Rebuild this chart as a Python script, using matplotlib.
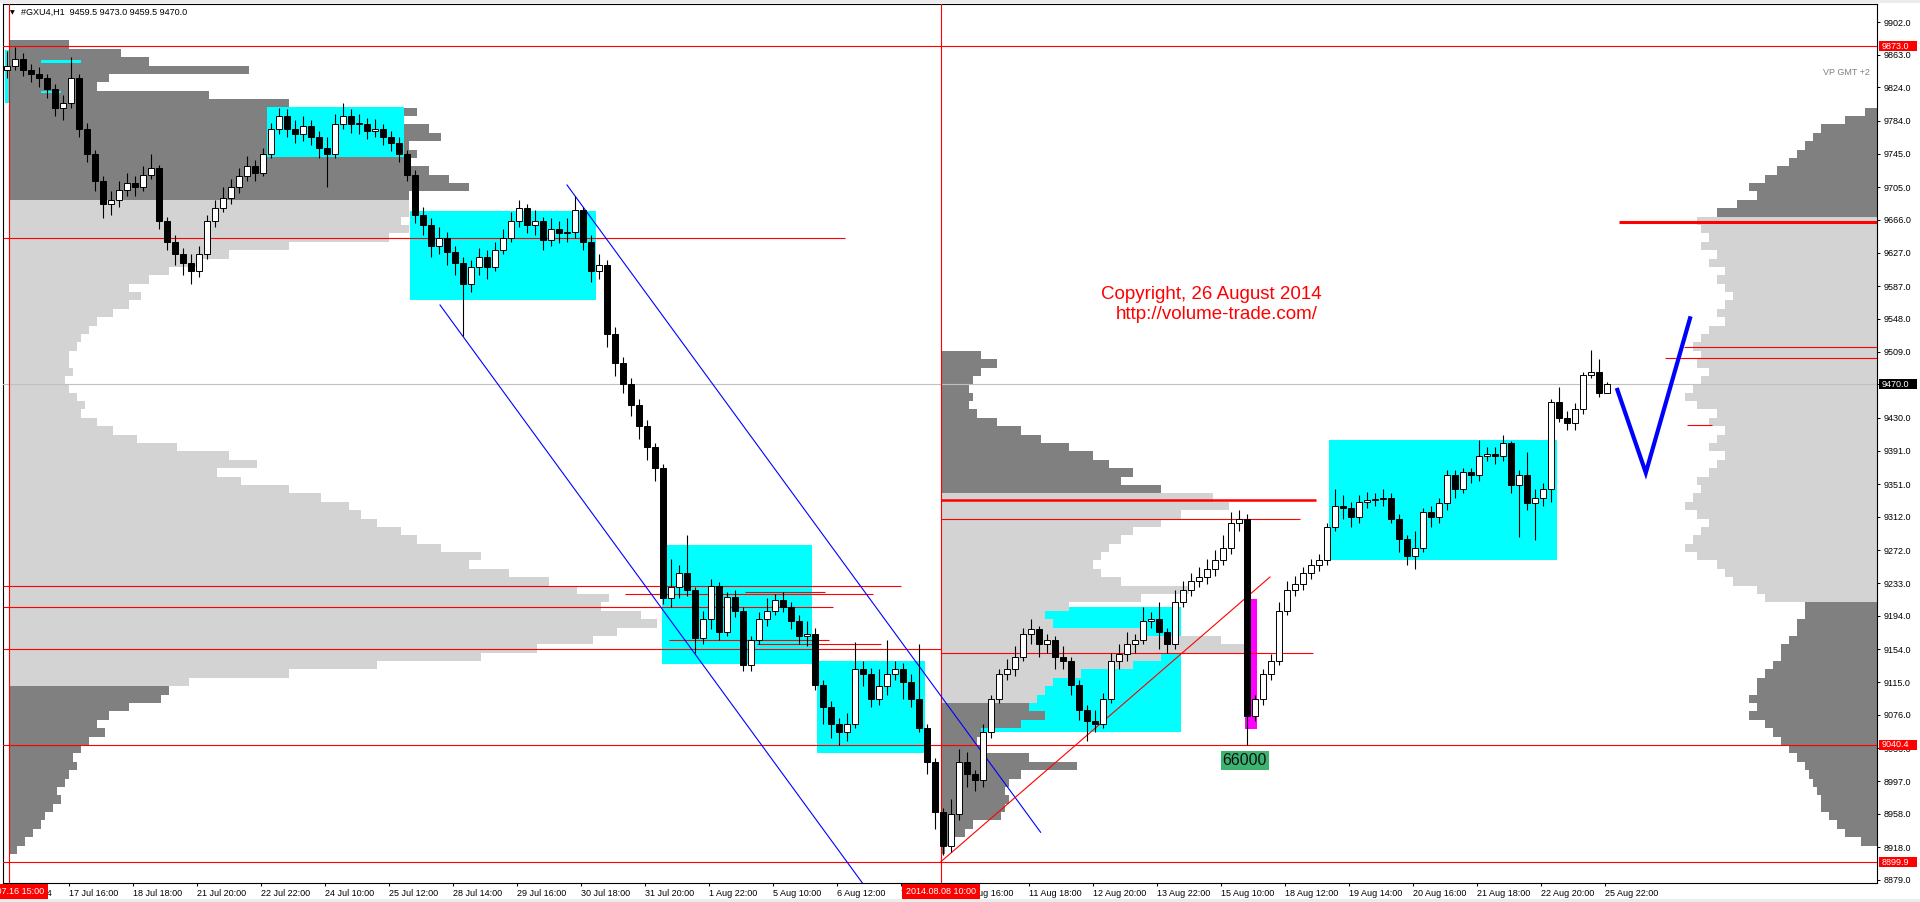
import matplotlib
matplotlib.use("Agg")
import matplotlib.pyplot as plt
import matplotlib.transforms as mtransforms
from matplotlib.patches import Rectangle
import numpy as np

plt.rcParams["font.family"] = ["Liberation Sans", "DejaVu Sans"]

W, H = 1920, 902

# #GXU4 H1, drawn as 2-hour candles (open = previous close)
first_open = 9845
closes = [
    9850, 9858, 9845, 9840, 9835, 9822, 9800, 9805, 9835, 9775,
    9745, 9712, 9685, 9690, 9702, 9710, 9705, 9720, 9728, 9665,
    9640, 9625, 9615, 9605, 9625, 9665, 9680, 9692, 9705, 9718,
    9730, 9722, 9745, 9775, 9790, 9775, 9768, 9778, 9765, 9752,
    9745, 9780, 9790, 9780, 9780, 9772, 9775, 9765, 9758, 9745,
    9720, 9672, 9660, 9635, 9645, 9628, 9615, 9590, 9610, 9622,
    9610, 9630, 9645, 9665, 9680, 9660, 9665, 9642, 9655, 9650,
    9652, 9678, 9640, 9605, 9612, 9530, 9495, 9470, 9445, 9420,
    9395, 9370, 9215, 9228, 9245, 9225, 9168, 9190, 9230, 9175,
    9216, 9200, 9135, 9165, 9190, 9200, 9213, 9205, 9188, 9170,
    9172, 9112, 9085, 9065, 9055, 9065, 9130, 9125, 9095, 9110,
    9125, 9130, 9115, 9095, 9060, 9020, 8960, 8920, 8958, 9020,
    9005, 8998, 9055, 9095, 9125, 9130, 9145, 9172, 9178, 9160,
    9165, 9145, 9140, 9112, 9082, 9068, 9065, 9095, 9140, 9148,
    9160, 9165, 9188, 9190, 9175, 9160, 9210, 9225, 9235, 9240,
    9250, 9260, 9275, 9305, 9310, 9075, 9095, 9125, 9140, 9200,
    9225, 9232, 9245, 9255, 9260, 9300, 9325, 9322, 9312, 9330,
    9332, 9333, 9335, 9310, 9285, 9265, 9275, 9318, 9312, 9328,
    9362, 9345, 9365, 9362, 9385, 9387, 9385, 9400, 9350, 9362,
    9328, 9335, 9345, 9449, 9430, 9424, 9440, 9481, 9485, 9460,
    9470]
highs = [
    9868, 9872, 9865, 9852, 9848, 9840, 9828, 9815, 9860, 9840,
    9782, 9750, 9718, 9700, 9712, 9722, 9718, 9730, 9745, 9732,
    9670, 9648, 9632, 9625, 9635, 9672, 9690, 9705, 9715, 9728,
    9742, 9738, 9752, 9782, 9800, 9798, 9785, 9790, 9785, 9772,
    9765, 9792, 9805, 9798, 9792, 9788, 9786, 9780, 9772, 9765,
    9750, 9725, 9682, 9668, 9658, 9652, 9635, 9622, 9618, 9632,
    9630, 9640, 9655, 9675, 9690, 9685, 9678, 9670, 9668, 9665,
    9668, 9694, 9682, 9648, 9625, 9618, 9538, 9502, 9478, 9452,
    9428, 9400, 9375, 9262, 9255, 9290, 9228, 9200, 9238, 9234,
    9222, 9225, 9205, 9170, 9198, 9215, 9220, 9222, 9210, 9195,
    9188, 9180, 9118, 9092, 9072, 9078, 9163, 9140, 9132, 9130,
    9165, 9140, 9138, 9125, 9160, 9065, 9025, 8965, 8975, 9035,
    9032, 9010, 9065, 9100, 9130, 9142, 9158, 9180, 9190, 9182,
    9172, 9170, 9158, 9145, 9118, 9088, 9082, 9102, 9150, 9160,
    9175, 9172, 9205, 9198, 9210, 9180, 9225, 9235, 9245, 9252,
    9262, 9272, 9290, 9318, 9320, 9315, 9100, 9130, 9148, 9210,
    9235, 9242, 9252, 9262, 9268, 9305, 9345, 9338, 9330, 9338,
    9342, 9340, 9345, 9340, 9315, 9290, 9295, 9322, 9325, 9335,
    9368, 9368, 9370, 9370, 9404, 9395, 9395, 9410, 9403, 9368,
    9389, 9345, 9352, 9452, 9467, 9438, 9448, 9485, 9511, 9500,
    9473]
lows = [
    9835, 9845, 9838, 9830, 9825, 9812, 9790, 9785, 9800, 9765,
    9735, 9700, 9668, 9672, 9682, 9695, 9695, 9700, 9715, 9655,
    9630, 9612, 9600, 9590, 9598, 9620, 9658, 9675, 9685, 9698,
    9712, 9712, 9718, 9740, 9768, 9765, 9758, 9760, 9755, 9740,
    9705, 9740, 9775, 9770, 9768, 9762, 9765, 9755, 9748, 9735,
    9712, 9662, 9648, 9622, 9625, 9612, 9600, 9528, 9580, 9600,
    9595, 9605, 9625, 9640, 9658, 9650, 9648, 9630, 9635, 9638,
    9640, 9645, 9630, 9592, 9595, 9515, 9480, 9460, 9432, 9405,
    9380, 9355, 9208, 9205, 9215, 9218, 9150, 9160, 9178, 9165,
    9170, 9192, 9128, 9128, 9160, 9182, 9195, 9198, 9178, 9160,
    9158, 9105, 9065, 9048, 9040, 9045, 9060, 9110, 9085, 9088,
    9100, 9118, 9095, 9085, 9055, 9005, 8940, 8909, 8912, 8950,
    8990, 8985, 8990, 9048, 9090, 9118, 9122, 9140, 9160, 9145,
    9150, 9130, 9130, 9100, 9070, 9045, 9055, 9060, 9090, 9130,
    9140, 9150, 9160, 9180, 9155, 9150, 9155, 9205, 9218, 9228,
    9232, 9242, 9255, 9268, 9295, 9040, 9068, 9088, 9118, 9135,
    9195, 9218, 9225, 9238, 9248, 9255, 9295, 9310, 9300, 9305,
    9322, 9325, 9325, 9305, 9270, 9255, 9250, 9270, 9300, 9305,
    9320, 9335, 9340, 9352, 9355, 9378, 9375, 9378, 9340, 9288,
    9320, 9284, 9325, 9330, 9425, 9415, 9415, 9435, 9478, 9455,
    9459.5]

# volume profiles, bar length per 10-point bin, top bin first
left_top = 9870
left_prof = [
    15, 28, 35, 60, 25, 22, 50, 70, 102, 98,
    105, 108, 100, 102, 100, 105, 110, 115, 100, 100,
    100, 98, 100, 95, 70, 55, 48, 40, 35, 30,
    33, 30, 26, 22, 20, 18, 17, 15, 15, 16,
    14, 15, 17, 19, 18, 22, 26, 32, 42, 55,
    62, 52, 58, 70, 78, 85, 88, 92, 98, 102,
    108, 118, 115, 125, 135, 142, 150, 148, 158, 162,
    152, 146, 132, 118, 92, 70, 45, 40, 38, 30,
    25, 22, 24, 20, 18, 16, 17, 15, 14, 12,
    13, 11, 9, 8, 6, 4, 2]
mid_top = 9500
mid_prof = [
    10, 14, 10, 8, 7, 8, 7, 9, 14, 20,
    25, 32, 38, 42, 48, 45, 55, 68, 72, 60,
    55, 48, 45, 42, 40, 38, 40, 45, 62, 50,
    32, 26, 28, 50, 70, 78, 55, 48, 35, 28,
    26, 24, 22, 26, 20, 10, 9, 10, 22, 34,
    20, 17, 16, 17, 16, 15, 8, 6, 3, 1]
right_top = 9790
right_prof = [
    3, 8, 14, 16, 18, 20, 22, 25, 28, 32,
    30, 35, 40, 45, 44, 42, 44, 40, 42, 38,
    40, 38, 36, 38, 40, 38, 42, 44, 46, 44,
    45, 42, 44, 46, 48, 45, 40, 42, 38, 40,
    42, 38, 40, 42, 45, 44, 46, 48, 45, 42,
    44, 46, 48, 45, 40, 38, 36, 30, 28, 18,
    18, 20, 20, 22, 24, 24, 26, 28, 30, 30,
    32, 30, 32, 28, 26, 24, 22, 20, 18, 17,
    16, 15, 14, 14, 12, 10, 8, 4]
left_va = (9115, 9694)
mid_va = (9090, 9345)
right_va = (9208, 9666)

# zones (hour from, price low, hour to, price high)
cyan_boxes = [(0, 9805, 1, 9869), (9, 9853, 19, 9857), (9, 9817, 14, 9820),
              (65.5, 9741, 99.75, 9801), (101.25, 9570, 147.75, 9677),
              (164.25, 9136, 201.75, 9278), (203, 9030, 230, 9140),
              (331, 9261, 388, 9404)]
cyan_mid = (242.5, 9055, 294, 9205)
spike_box = (310, 9059, 313, 9214)

full_red = [9873.0, 9040.4, 8899.9]
last_price = 9470.0
red_segments = [  # price, hour from, hour to, width
    (9645, -0.5, 210, 0.8), (9229, -0.5, 224, 0.8), (9222, 185, 205, 0.8),
    (9220, 155, 217, 0.8), (9204.5, -0.5, 207, 0.8), (9165, 166, 206, 0.8),
    (9160, 188, 219, 0.8), (9154, -0.5, 234, 0.8),
    (9332.6, 234, 327.75, 1.8), (9309.5, 234, 323.75, 0.8), (9150, 234, 327, 0.8),
    (9663, 403.5, 468, 2.2), (9514, 419.75, 468, 0.8), (9501, 415, 468, 0.8),
    (9421, 420.5, 426.75, 0.8)]
period_starts = [1, 234]
channel_upper = ([140.5, 258.9], [9707.7, 8935.9])
channel_lower = ([108.75, 216.25], [9564.6, 8863.0])
trend_red = ([234, 316.25], [8900.9, 9240.3])
forecast = ([403.1, 410.2, 421.25], [9463.3, 9364.6, 9548.7])

price_ticks = [9902.0, 9863.0, 9824.0, 9784.0, 9745.0, 9705.0, 9666.0, 9627.0,
               9587.0, 9548.0, 9509.0, 9470.0, 9430.0, 9391.0, 9351.0, 9312.0,
               9272.0, 9233.0, 9194.0, 9154.0, 9115.0, 9076.0, 9036.0, 8997.0,
               8958.0, 8918.0, 8879.0]
time_labels = ["16 Jul 2014", "17 Jul 16:00", "18 Jul 18:00", "21 Jul 20:00",
               "22 Jul 22:00", "24 Jul 10:00", "25 Jul 12:00", "28 Jul 14:00",
               "29 Jul 16:00", "30 Jul 18:00", "31 Jul 20:00", "1 Aug 22:00",
               "5 Aug 10:00", "6 Aug 12:00", "7 Aug 14:00", "8 Aug 16:00",
               "11 Aug 18:00", "12 Aug 20:00", "13 Aug 22:00", "15 Aug 10:00",
               "18 Aug 12:00", "19 Aug 14:00", "20 Aug 16:00", "21 Aug 18:00",
               "22 Aug 20:00", "25 Aug 22:00"]
marker_labels = ["2014.07.16 15:00", "2014.08.08 10:00"]

FS = 6.5


def px(x):
    return x / W


def py(y):
    return 1 - y / H


def draw_profile(ax, top, vals, va, anchor, to_left=False, z=1):
    vals = np.array(vals, float)
    levels = top - 10 * np.arange(len(vals))
    cols = ["#d3d3d3" if va[0] <= p + 5 < va[1] else "#808080" for p in levels]
    left = anchor - vals if to_left else anchor
    ax.barh(levels, vals, left=left, height=10, align="edge", color=cols,
            linewidth=0, zorder=z)


def main():
    fig = plt.figure(figsize=(W / 100, H / 100), dpi=100)
    fig.patch.set_facecolor("white")
    ax = fig.add_axes([px(3), (H - 883) / H, 1874 / W, 879 / H])
    ax.set_xlim(-0.5, 468)
    ax.set_ylim(8875.4, 9923.5)

    # profiles and zones
    draw_profile(ax, left_top, left_prof, left_va, period_starts[0], z=1)
    draw_profile(ax, right_top, right_prof, right_va, 468, to_left=True, z=1)
    for h0, p0, h1, p1 in cyan_boxes:
        ax.add_patch(Rectangle((h0, p0), h1 - h0, p1 - p0, color="#00ffff", lw=0, zorder=2))
    h0, p0, h1, p1 = cyan_mid
    ax.add_patch(Rectangle((h0, p0), h1 - h0, p1 - p0, color="#00ffff", lw=0, zorder=2))
    draw_profile(ax, mid_top, mid_prof, mid_va, period_starts[1], z=2.5)
    h0, p0, h1, p1 = spike_box
    ax.add_patch(Rectangle((h0, p0), h1 - h0, p1 - p0, color="#ff00ff", lw=0, zorder=3))

    # levels and lines
    for p in full_red:
        ax.axhline(p, color="#ff0000", lw=0.8, zorder=4)
    ax.axhline(last_price, color="#c0c0c0", lw=0.8, zorder=3.5)
    for p, a, b, w in red_segments:
        ax.plot([a, b], [p, p], color="#ff0000", lw=w, zorder=4, solid_capstyle="butt")
    for h in period_starts:
        ax.axvline(h, color="#ff0000", lw=0.8, zorder=4)
    ax.plot(*channel_upper, color="#0000ff", lw=0.8, zorder=4)
    ax.plot(*channel_lower, color="#0000ff", lw=0.8, zorder=4)
    ax.plot(*trend_red, color="#ff0000", lw=0.8, zorder=4)
    ax.plot(*forecast, color="#0000ff", lw=3.0, zorder=4, solid_joinstyle="miter")

    # candles
    c = np.array(closes, float)
    o = np.r_[first_open, c[:-1]]
    x = 2 * np.arange(len(c)) + 0.5
    ax.vlines(x, lows, highs, color="black", lw=0.8, zorder=6)
    up = c >= o
    bottom = np.minimum(o, c)
    height = np.maximum(np.abs(c - o), 1.5)
    ax.bar(x, height, bottom=bottom, width=1.3,
           color=np.where(up, "white", "black"), edgecolor="black", lw=0.7, zorder=7)

    # texts
    ax.text(273.9, 9577, "Copyright, 26 August 2014", color="#ff0000",
            fontsize=13.5, ha="left", va="center", zorder=8)
    ax.text(277.75, 9553, "http://volume-trade.com/", color="#ff0000",
            fontsize=13.5, ha="left", va="center", zorder=8)
    ax.text(309.9, 9021.2, "66000", color="#111111", fontsize=11.5, ha="center",
            va="center", zorder=8,
            bbox=dict(facecolor="#3cb371", edgecolor="none", pad=1.3))
    ax.text(0.9963, 0.9226, "VP GMT +2", transform=ax.transAxes, color="#7f7f7f",
            fontsize=FS, ha="right", va="center")

    # axes
    for s in ax.spines.values():
        s.set_color("black")
        s.set_linewidth(0.8)
    ax.yaxis.tick_right()
    ax.set_yticks(price_ticks)
    ax.set_yticklabels([f"{p:.1f}" for p in price_ticks])
    ax.tick_params(axis="y", direction="out", length=2.5, width=0.7, pad=2.5,
                   labelsize=FS, colors="black")
    ax.set_xticks(16 * np.arange(len(time_labels)))
    ax.set_xticklabels(time_labels, ha="left")
    ax.tick_params(axis="x", direction="out", length=2.5, width=0.7, pad=2.0,
                   labelsize=FS, colors="black")

    # price labels on the right scale
    yb = mtransforms.blended_transform_factory(fig.transFigure, ax.transData)
    for p in full_red:
        fig.add_artist(Rectangle((px(1879), p - 6), 38 / W, 12, transform=yb,
                                 color="#ff0000", lw=0))
        fig.text(px(1882), p, f"{p:.1f}", transform=yb, color="white",
                 fontsize=FS, ha="left", va="center")
    fig.add_artist(Rectangle((px(1879), last_price - 6), 38 / W, 12, transform=yb,
                             color="black", lw=0))
    fig.text(px(1882), last_price, f"{last_price:.1f}", transform=yb, color="white",
             fontsize=FS, ha="left", va="center")

    # time labels of the period starts
    xb = mtransforms.blended_transform_factory(ax.transData, fig.transFigure)
    for h, lab in zip(period_starts, marker_labels):
        fig.add_artist(Rectangle((h - 9.75, py(899)), 19.5, 15 / H, transform=xb,
                                 color="#ff0000", lw=0))
        fig.text(h, py(891.5), lab, transform=xb, color="white", fontsize=FS,
                 ha="center", va="center")

    # header
    fig.add_artist(Rectangle((0, py(3)), 1, 3 / H, transform=fig.transFigure,
                             color="#ececec", lw=0))
    fig.add_artist(Rectangle((0, 0), 1, 3 / H, transform=fig.transFigure,
                             color="#ececec", lw=0))
    fig.text(px(12), py(12.5), "\u25bc", fontsize=4.5, family="DejaVu Sans",
             ha="center", va="center")
    fig.text(px(21), py(12.5), "#GXU4,H1  9459.5 9473.0 9459.5 9470.0",
             fontsize=FS, ha="left", va="center")

    fig.savefig("out.png", dpi=100, facecolor="white")


if __name__ == "__main__":
    main()
